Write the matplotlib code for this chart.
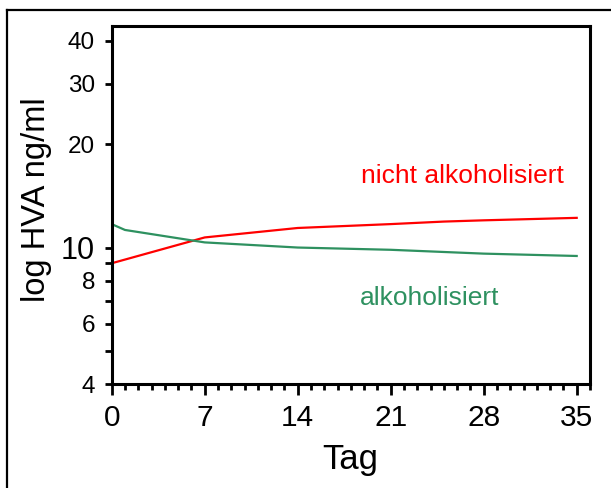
import matplotlib
matplotlib.use("Agg")
import matplotlib.pyplot as plt
from matplotlib.lines import Line2D
from matplotlib.ticker import FixedLocator, NullFormatter

plt.rcParams["font.family"] = ["Liberation Sans", "DejaVu Sans"]

# ---------------- DATEN ----------------
tage_nicht = [0, 7, 14, 21, 25, 28, 35]
hva_nicht = [9.0, 10.7, 11.4, 11.7, 11.9, 12.0, 12.2]

tage_alk = [0, 1, 7, 14, 21, 28, 35]
hva_alk = [11.7, 11.25, 10.35, 10.0, 9.85, 9.6, 9.45]

x_ticks = [0, 7, 14, 21, 28, 35]
y_ticks = [4, 6, 8, 10, 20, 30, 40]
y_minor = [5, 7, 9]

rot = "#ff0000"
gruen = "#2e9160"

# ---------------- GRAFIK ----------------
fig = plt.figure(figsize=(6.11, 4.88), dpi=100)
ax = fig.add_axes([0.1828, 0.2125, 0.9656 - 0.1828, 0.9473 - 0.2125])

ax.plot(tage_nicht, hva_nicht, color=rot, linewidth=1.6)
ax.plot(tage_alk, hva_alk, color=gruen, linewidth=1.6)

ax.set_yscale("log")
ax.set_ylim(4, 44.2)
ax.set_xlim(0, 36)

ax.yaxis.set_major_locator(FixedLocator(y_ticks))
ax.yaxis.set_minor_locator(FixedLocator(y_minor))
ax.yaxis.set_minor_formatter(NullFormatter())
ax.set_yticklabels([str(v) for v in y_ticks])
for lab, v in zip(ax.get_yticklabels(), y_ticks):
    lab.set_fontsize(22 if v == 10 else 17.5)

ax.set_xticks(x_ticks)
ax.set_xticklabels([str(v) for v in x_ticks], fontsize=21.5)
ax.xaxis.set_minor_locator(FixedLocator(range(0, 37)))

for s in ax.spines.values():
    s.set_linewidth(2.2)

ax.tick_params(axis="y", which="both", direction="out", length=5, width=2, pad=7)
ax.tick_params(axis="x", which="major", direction="out", length=8, width=2, pad=6)
ax.tick_params(axis="x", which="minor", direction="out", length=4, width=2)

ax.text(0.522, 0.56, "nicht alkoholisiert", color=rot, fontsize=19,
        transform=ax.transAxes, ha="left", va="baseline")
ax.text(0.518, 0.22, "alkoholisiert", color=gruen, fontsize=19,
        transform=ax.transAxes, ha="left", va="baseline")

fig.text(0.574, 0.038, "Tag", fontsize=25, ha="center", va="baseline")
fig.text(0.060, 0.59, "log HVA ng/ml", fontsize=23.5, rotation=90,
         ha="center", va="center")

# Rahmen
fig.add_artist(Line2D([7 / 611, 1.0], [1 - 10 / 488, 1 - 10 / 488],
                      color="black", linewidth=1.6, transform=fig.transFigure))
fig.add_artist(Line2D([7 / 611, 7 / 611], [0.0, 1 - 10 / 488],
                      color="black", linewidth=1.6, transform=fig.transFigure))

fig.savefig("out.png", dpi=100)
plt.close(fig)
